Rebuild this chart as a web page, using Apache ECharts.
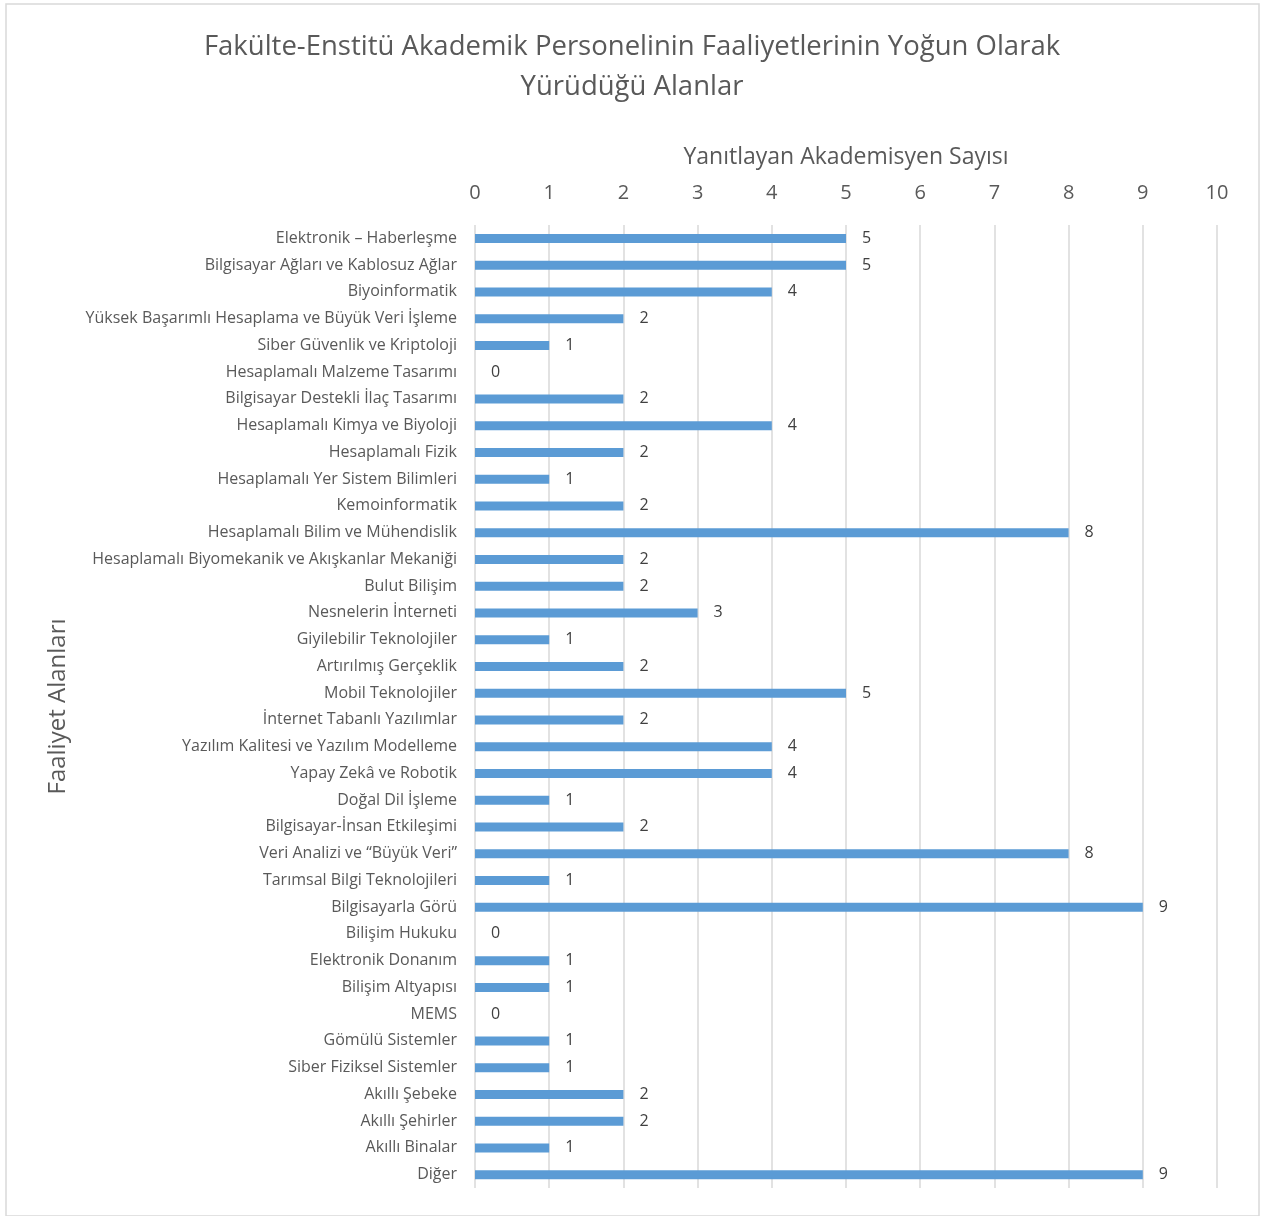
<!DOCTYPE html>
<html><head><meta charset="utf-8">
<script src="https://cdn.jsdelivr.net/npm/echarts@6/dist/echarts.min.js"></script>
<style>html,body{margin:0;padding:0;background:#fff;}#c{width:1264px;height:1216px;}</style>
</head><body><div id="c"></div>
<script>
const titleText = 'Fakülte-Enstitü Akademik Personelinin Faaliyetlerinin Yoğun Olarak\nYürüdüğü Alanlar';
const xAxisName = 'Yanıtlayan Akademisyen Sayısı';
const yAxisName = 'Faaliyet Alanları';
const categories = [
 'Elektronik – Haberleşme','Bilgisayar Ağları ve Kablosuz Ağlar','Biyoinformatik',
 'Yüksek Başarımlı Hesaplama ve Büyük Veri İşleme','Siber Güvenlik ve Kriptoloji',
 'Hesaplamalı Malzeme Tasarımı','Bilgisayar Destekli İlaç Tasarımı','Hesaplamalı Kimya ve Biyoloji',
 'Hesaplamalı Fizik','Hesaplamalı Yer Sistem Bilimleri','Kemoinformatik',
 'Hesaplamalı Bilim ve Mühendislik','Hesaplamalı Biyomekanik ve Akışkanlar Mekaniği',
 'Bulut Bilişim','Nesnelerin İnterneti','Giyilebilir Teknolojiler','Artırılmış Gerçeklik',
 'Mobil Teknolojiler','İnternet Tabanlı Yazılımlar','Yazılım Kalitesi ve Yazılım Modelleme',
 'Yapay Zekâ ve Robotik','Doğal Dil İşleme','Bilgisayar-İnsan Etkileşimi',
 'Veri Analizi ve “Büyük Veri”','Tarımsal Bilgi Teknolojileri','Bilgisayarla Görü',
 'Bilişim Hukuku','Elektronik Donanım','Bilişim Altyapısı','MEMS','Gömülü Sistemler',
 'Siber Fiziksel Sistemler','Akıllı Şebeke','Akıllı Şehirler','Akıllı Binalar','Diğer'
];
const values = [5,5,4,2,1,0,2,4,2,1,2,8,2,2,3,1,2,5,2,4,4,1,2,8,1,9,0,1,1,0,1,1,2,2,1,9];
const xTicks = [0,1,2,3,4,5,6,7,8,9,10];

const FONT = '"Open Sans", sans-serif';
const chart = echarts.init(document.getElementById('c'), null, {renderer:'canvas'});
chart.setOption({
  animation:false,
  backgroundColor:'#fff',
  graphic:[{type:'rect', shape:{x:6,y:4,width:1253,height:1212}, style:{fill:null, stroke:'#d9d9d9', lineWidth:1.5}, silent:true}],
  title:{text:titleText, left:'center', top:22, textStyle:{fontFamily:FONT, fontSize:27.5, fontWeight:'normal', color:'#595959', lineHeight:40}},
  grid:{left:475, right:47, top:225, bottom:28, containLabel:false},
  xAxis:{type:'value', position:'top', min:xTicks[0], max:xTicks[xTicks.length-1], interval:1,
    name:xAxisName, nameLocation:'middle', nameGap:56,
    nameTextStyle:{fontFamily:FONT, fontSize:23, color:'#595959'},
    axisLine:{show:false}, axisTick:{show:false},
    axisLabel:{fontFamily:FONT, fontSize:20, color:'#595959', margin:22},
    splitLine:{show:true, lineStyle:{color:'#d9d9d9', width:1.5}}},
  yAxis:{type:'category', data:categories, inverse:true,
    name:yAxisName, nameLocation:'middle', nameGap:405, nameRotate:90,
    nameTextStyle:{fontFamily:FONT, fontSize:24, color:'#595959'},
    axisLine:{show:false}, axisTick:{show:false},
    axisLabel:{fontFamily:FONT, fontSize:16, color:'#595959', margin:18}},
  series:[{type:'bar', data:values, barWidth:9,
    itemStyle:{color:'#5b9bd5'},
    label:{show:true, position:'right', distance:16, fontFamily:FONT, fontSize:16, color:'#404040'}}]
});
</script></body></html>
